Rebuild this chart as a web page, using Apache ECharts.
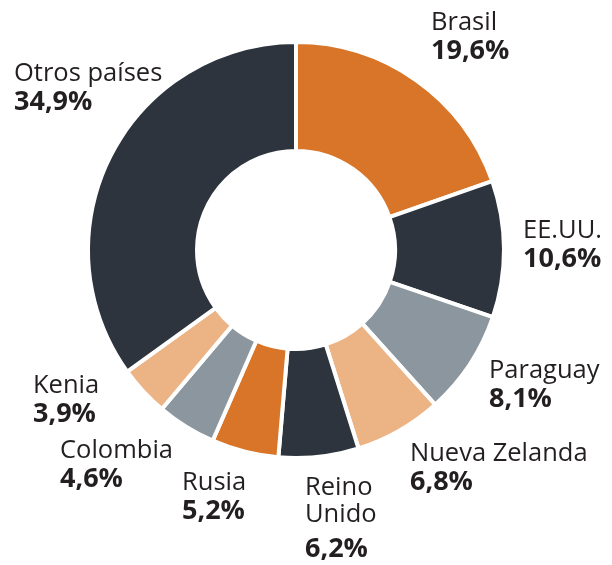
<!DOCTYPE html>
<html>
<head>
<meta charset="utf-8">
<script src="https://cdn.jsdelivr.net/npm/echarts@6/dist/echarts.min.js"></script>
<style>html,body{margin:0;padding:0;background:#fff}#c{width:612px;height:565px}</style>
</head>
<body>
<div id="c"></div>
<script>
const categories = ['Brasil', 'EE.UU.', 'Paraguay', 'Nueva Zelanda', 'Reino\nUnido', 'Rusia', 'Colombia', 'Kenia', 'Otros países'];
const values = [19.6, 10.6, 8.1, 6.8, 6.2, 5.2, 4.6, 3.9, 34.9];
const colors = ['#D87528', '#2D343E', '#8C969E', '#ECB385', '#2D343E', '#D87528', '#8C969E', '#ECB385', '#2D343E'];
// label anchor (left, top) for each slice
const labelPos = [[431, 9], [523, 217], [489, 357], [410, 440], [305, 474], [182, 469], [60, 437], [33, 372], [14, 60]];

const chart = echarts.init(document.getElementById('c'), null, {renderer: 'canvas'});
chart.setOption({
  animation: false,
  series: [{
    type: 'pie',
    center: [296, 250],
    radius: [99, 208],
    startAngle: 90,
    clockwise: true,
    data: categories.map((n, i) => ({
      name: n, value: values[i],
      itemStyle: {color: colors[i]}
    })),
    itemStyle: {borderColor: '#fff', borderWidth: 4},
    label: {
      show: true,
      position: 'inside',
      overflow: 'none',
      formatter: p => {
        const pct = p.value.toFixed(1).replace('.', ',') + '%';
        return '{n|' + p.name.split('\n').join('}\n{n|') + '}\n{' + (p.dataIndex === 4 ? 'q' : 'p') + '|' + pct + '}';
      },
      rich: {
        n: {fontFamily: 'Open Sans', fontSize: 25.5, lineHeight: 27, color: '#231F20'},
        p: {fontFamily: 'Open Sans', fontSize: 27, fontWeight: 'bold', lineHeight: 31, color: '#231F20'},
        q: {fontFamily: 'Open Sans', fontSize: 27, fontWeight: 'bold', lineHeight: 42, color: '#231F20'}
      }
    },
    labelLine: {show: false},
    labelLayout: params => ({
      x: labelPos[params.dataIndex][0],
      y: labelPos[params.dataIndex][1],
      align: 'left',
      verticalAlign: 'top'
    }),
    emphasis: {disabled: true}
  }]
});
</script>
</body>
</html>
